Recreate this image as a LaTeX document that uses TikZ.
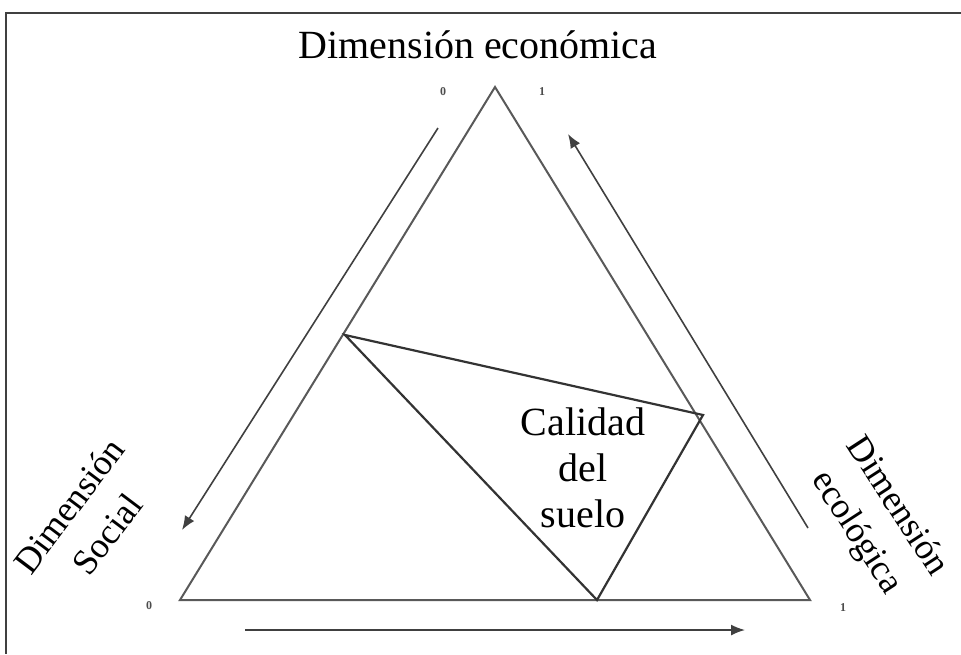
\documentclass[tikz,border=0pt]{standalone}
\usepackage{fontspec}
\setmainfont{Liberation Serif}
\usetikzlibrary{arrows.meta}
\tikzset{
    side/.style={draw=black!65, line width=1pt},
    inner/.style={draw=black!80, line width=1.1pt},
    axarr/.style={draw=black!75, line width=0.8pt, -{Latex[length=7pt, width=5.5pt]}},
    lbl/.style={font=\fontsize{20}{23}\selectfont, align=center, inner sep=0pt},
    rlbl/.style={font=\fontsize{18}{24}\selectfont, align=center, inner sep=0pt},
    tick/.style={font=\fontsize{6}{7}\selectfont\bfseries, text=black!70, inner sep=0pt}
}

\begin{document}
\begin{tikzpicture}[x=0.5pt, y=-0.5pt]
    \useasboundingbox (0,0) rectangle (961,654);
    \draw[black!75, line width=1pt] (961,13) -- (6,13) -- (6,654);

    % outer triangle
    \coordinate (top) at (495,87);
    \coordinate (bl) at (180,600);
    \coordinate (br) at (810,600);
    \draw[side] (bl) -- (top) -- (br) -- cycle;

    % inner triangle
    \coordinate (q1) at (345,335);
    \coordinate (q2) at (703,415);
    \coordinate (q3) at (597,600);
    \draw[inner] (q1) -- (q2) -- (q3) -- cycle;

    % axis arrows
    \coordinate (a1s) at (438,128);
    \coordinate (a1e) at (182,530);
    \coordinate (a2s) at (808,528);
    \coordinate (a2e) at (568,134);
    \coordinate (a3s) at (245,630);
    \coordinate (a3e) at (745,630);
    \draw[axarr] (a1s) -- (a1e);
    \draw[axarr] (a2s) -- (a2e);
    \draw[axarr] (a3s) -- (a3e);

    \node[tick] (t0) at (443,92) {0};
    \node[tick] (t1) at (542,92) {1};
    \node[tick] (l0) at (149,606) {0};
    \node[tick] (r1) at (843,608) {1};

    \node[lbl] (eco) at (478,45) {Dimensión económica};
    \node[lbl] (cal) at (583,468) {Calidad\\del\\suelo};
    \node[rlbl, rotate=53] (soc) at (88,520) {Dimensión\\Social};
    \node[rlbl, rotate=-57] (ecol) at (876,520) {Dimensión\\ecológica};
\end{tikzpicture}
\end{document}
